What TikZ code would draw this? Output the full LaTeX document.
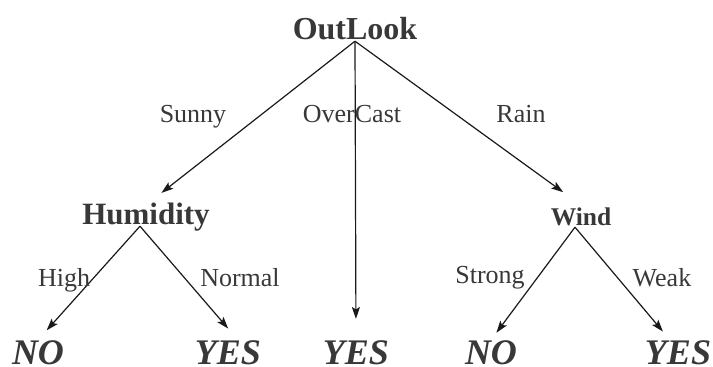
\documentclass[tikz,border=0pt]{standalone}
\usepackage{fontspec}
\setmainfont{Liberation Serif}
\usetikzlibrary{arrows.meta}

\tikzset{
  attr/.style={font=\bfseries\fontsize{#1}{#1}\selectfont,text=black!78,inner sep=2pt,text depth=0pt,anchor=base},
  leaf/.style={font=\bfseries\itshape\fontsize{36}{36}\selectfont,text=black!78,inner xsep=2pt,inner ysep=0pt,text depth=0pt,anchor=base},
  val/.style={font=\fontsize{26}{26}\selectfont,text=black!78,inner sep=0pt,anchor=base},
  branch/.style={draw=black!90,line width=1.2pt,-{Stealth[length=12pt,width=8pt,inset=2.5pt]}},
}

\begin{document}
\begin{tikzpicture}[x=1pt,y=-1pt]
  \useasboundingbox (0,0) rectangle (713,367);
  % tests
  \node[attr=32] (outlook) at (355,39) {OutLook};
  \node[attr=31] (humid) at (146,224) {Humidity};
  \node[attr=25.5] (wind) at (581,225) {Wind};
  % leaves
  \node[leaf] (noA) at (38,364) {NO};
  \node[leaf] (yesA) at (228,364) {YES};
  \node[leaf] (yesB) at (356,364) {YES};
  \node[leaf] (noB) at (491,364) {NO};
  \node[leaf] (yesC) at (678,364) {YES};
  % branches
  \draw[branch,shorten >=12pt] (outlook.south) -- ([xshift=6pt]humid.north);
  \draw[branch,shorten >=21pt] (outlook.south) -- (yesB.north);
  \draw[branch,shorten >=22pt] (outlook.south) -- (wind.north);
  \draw[branch,shorten >=13pt] ([xshift=-6pt]humid.south) -- (noA.north);
  \draw[branch,shorten >=15pt] ([xshift=-6pt]humid.south) -- ([xshift=10pt]yesA.north);
  \draw[branch,shorten >=9pt] ([xshift=-6pt]wind.south) -- (noB.north);
  \draw[branch,shorten >=11pt] ([xshift=-6pt]wind.south) -- ([xshift=-8pt]yesC.north);
  % values
  \node[val] (sunny) at (193,122) {Sunny};
  \node[val] (overcast) at (352,122) {OverCast};
  \node[val] (rain) at (521,122) {Rain};
  \node[val] (high) at (64,286) {High};
  \node[val] (normal) at (240,286) {Normal};
  \node[val] (strong) at (490,283) {Strong};
  \node[val] (weak) at (662,286) {Weak};
\end{tikzpicture}
\end{document}
